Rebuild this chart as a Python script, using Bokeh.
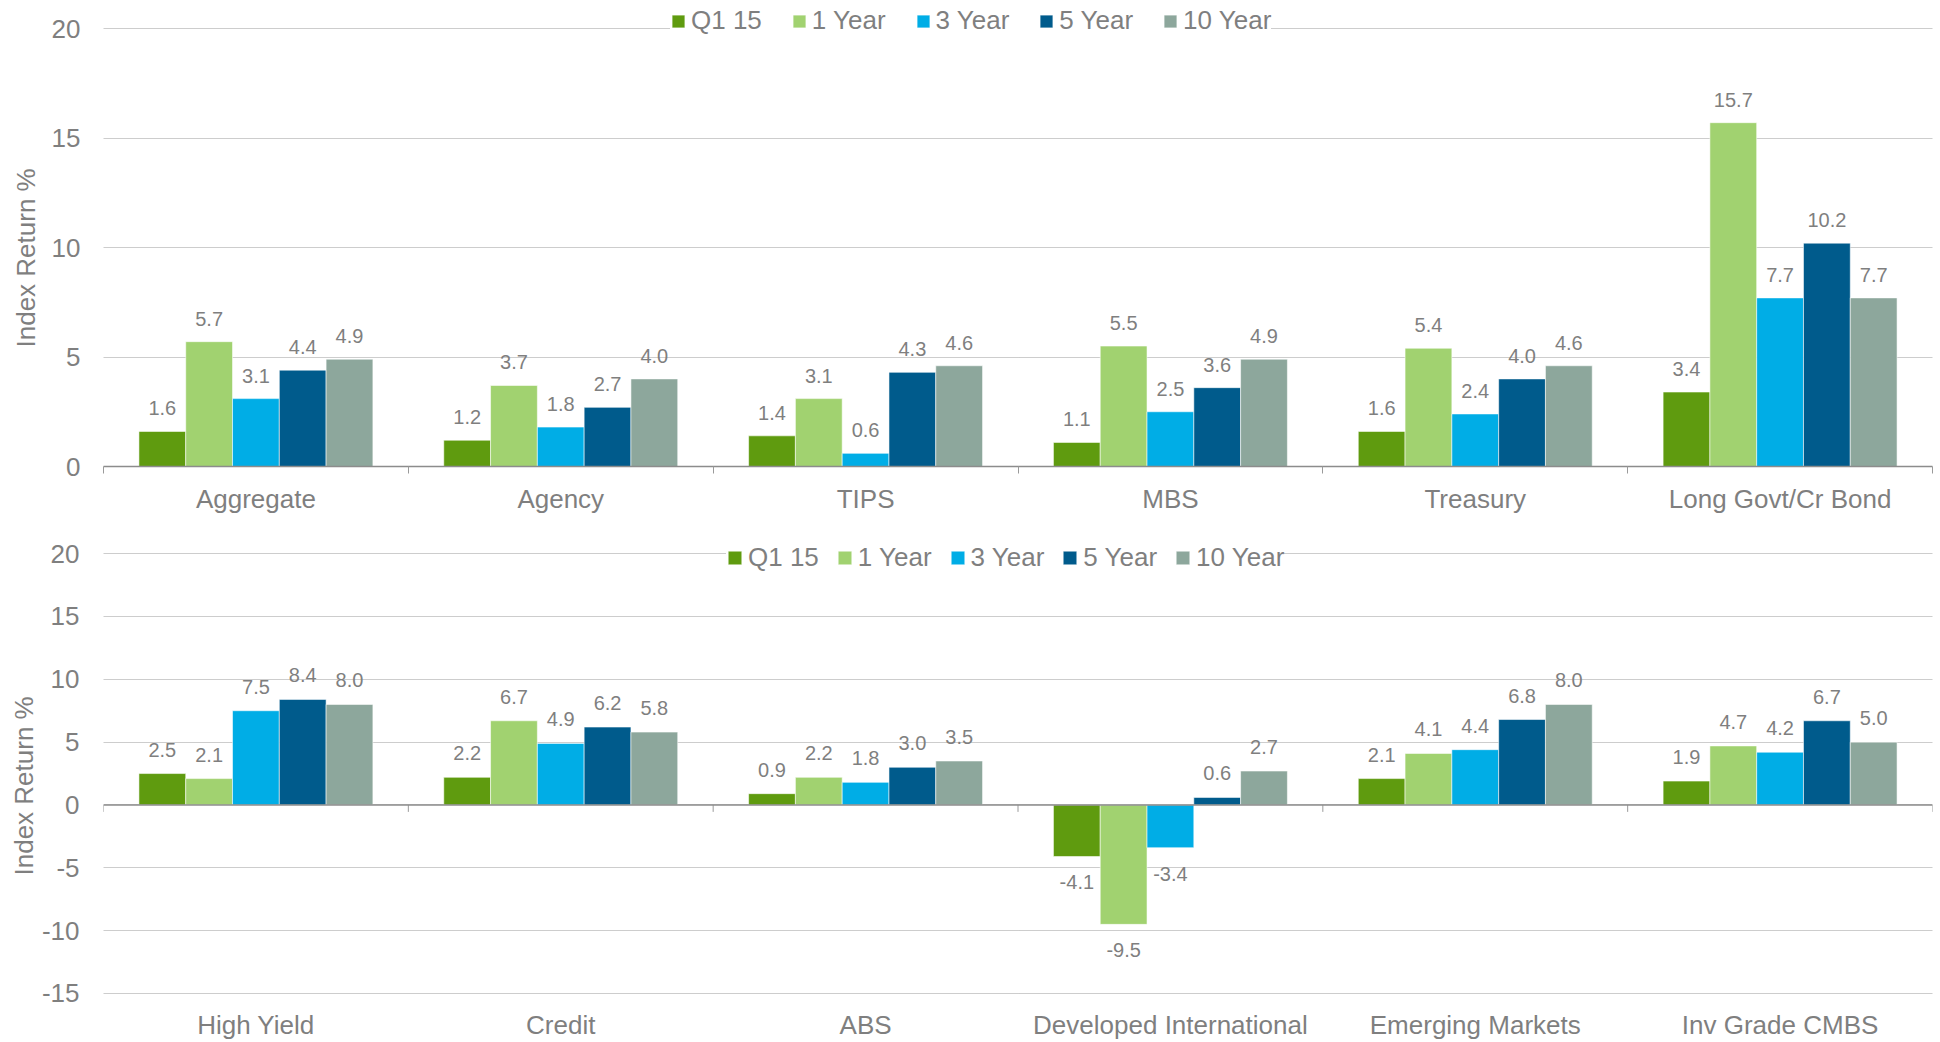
import numpy as np
from bokeh.plotting import figure
from bokeh.models import ColumnDataSource, FixedTicker, Legend, LegendItem, Span, Range1d, Title
from bokeh.layouts import column
from bokeh.embed import file_html
from bokeh.resources import INLINE
from bokeh.core.properties import value

# ---------------- data ----------------
series_names = ["Q1 15", "1 Year", "3 Year", "5 Year", "10 Year"]
series_colors = ["#5f9b0f", "#a1d270", "#00ade6", "#005b8c", "#8da79c"]

top_categories = ["Aggregate", "Agency", "TIPS", "MBS", "Treasury", "Long Govt/Cr Bond"]
top_q1_15 = [1.6, 1.2, 1.4, 1.1, 1.6, 3.4]
top_1_year = [5.7, 3.7, 3.1, 5.5, 5.4, 15.7]
top_3_year = [3.1, 1.8, 0.6, 2.5, 2.4, 7.7]
top_5_year = [4.4, 2.7, 4.3, 3.6, 4.0, 10.2]
top_10_year = [4.9, 4.0, 4.6, 4.9, 4.6, 7.7]
top_y_ticks = [0, 5, 10, 15, 20]

bottom_categories = ["High Yield", "Credit", "ABS", "Developed International",
                     "Emerging Markets", "Inv Grade CMBS"]
bottom_q1_15 = [2.5, 2.2, 0.9, -4.1, 2.1, 1.9]
bottom_1_year = [2.1, 6.7, 2.2, -9.5, 4.1, 4.7]
bottom_3_year = [7.5, 4.9, 1.8, -3.4, 4.4, 4.2]
bottom_5_year = [8.4, 6.2, 3.0, 0.6, 6.8, 6.7]
bottom_10_year = [8.0, 5.8, 3.5, 2.7, 8.0, 5.0]
bottom_y_ticks = [-15, -10, -5, 0, 5, 10, 15, 20]

y_label = "Index Return %"

# ---------------- style ----------------
FONT = "Liberation Sans"
TXT = "#7f7f7f"
GRID = "#9a9a9a"
AXIS = "#8c8c8c"
BAR_W = 0.1535


def build(categories, series, y_rng, y_ticks, height, border_left, border_right,
          border_top, border_bottom, x_label_standoff, title_offset, title_standoff,
          tick_standoff, legend_loc, legend_spacing, legend_glyph, legend_padding,
          zero_axis_bottom, label_gap_pos, label_gap_neg):
    n = len(categories)
    centers = [i + 0.5 for i in range(n)]
    bounds = [float(i) for i in range(n + 1)]
    p = figure(width=1940, height=height, output_backend="svg", toolbar_location=None,
               x_range=Range1d(0, n), y_range=Range1d(*y_rng),
               min_border_left=border_left, min_border_right=border_right,
               min_border_top=border_top, min_border_bottom=border_bottom)
    p.outline_line_color = None
    p.background_fill_color = "white"
    p.border_fill_color = "white"

    # grid
    p.xgrid.grid_line_color = None
    p.ygrid.ticker = FixedTicker(ticks=y_ticks)
    p.ygrid.grid_line_color = GRID
    p.ygrid.grid_line_dash = "1 1"
    p.ygrid.grid_line_width = 1

    # y axis
    ya = p.yaxis[0]
    ya.ticker = FixedTicker(ticks=y_ticks)
    ya.major_label_overrides = {t: str(t) for t in y_ticks}
    ya.axis_line_color = None
    ya.major_tick_line_color = None
    ya.minor_tick_line_color = None
    ya.major_tick_out = 0
    ya.major_tick_in = 0
    ya.minor_tick_out = 0
    ya.minor_tick_in = 0
    ya.major_label_standoff = tick_standoff
    ya.major_label_text_font = FONT
    ya.major_label_text_font_size = "26px"
    ya.major_label_text_color = TXT

    # y axis title as a side title so it can be shifted along the axis
    p.add_layout(Title(text=y_label, align="left", offset=title_offset,
                       vertical_align="bottom", standoff=title_standoff,
                       text_font=FONT, text_font_size="26px", text_font_style="normal",
                       text_color=TXT), "left")

    # x axis (category labels)
    xa = p.xaxis[0]
    xa.ticker = FixedTicker(ticks=centers, minor_ticks=bounds)
    xa.major_label_overrides = {c: lab for c, lab in zip(centers, categories)}
    xa.major_tick_line_color = None
    xa.major_tick_out = 0
    xa.major_tick_in = 0
    xa.major_label_standoff = x_label_standoff
    xa.major_label_text_font = FONT
    xa.major_label_text_font_size = "26px"
    xa.major_label_text_color = TXT
    if zero_axis_bottom:
        xa.axis_line_color = AXIS
        xa.axis_line_width = 1.5
        xa.minor_tick_line_color = GRID
        xa.minor_tick_out = 7
        xa.minor_tick_in = 0
    else:
        xa.axis_line_color = None
        xa.minor_tick_line_color = None
        xa.minor_tick_out = 0
        xa.minor_tick_in = 0

    # bars
    renderers = []
    for j, (vals, col) in enumerate(zip(series, series_colors)):
        xs = [c + (j - (len(series) - 1) / 2) * BAR_W for c in centers]
        src = ColumnDataSource(dict(x=xs, top=vals))
        r = p.vbar(x="x", top="top", bottom=0, width=BAR_W, source=src,
                   fill_color=col, line_color="white", line_width=1, line_alpha=0.55)
        renderers.append(r)
        pos = [(x, v, f"{v:.1f}") for x, v in zip(xs, vals) if v >= 0]
        neg = [(x, v, f"{v:.1f}") for x, v in zip(xs, vals) if v < 0]
        for rows, baseline, off in ((pos, "alphabetic", -label_gap_pos), (neg, "top", label_gap_neg)):
            if not rows:
                continue
            s = ColumnDataSource(dict(x=[r_[0] for r_ in rows], y=[r_[1] for r_ in rows],
                                      t=[r_[2] for r_ in rows]))
            p.text(x="x", y="y", text="t", source=s, text_align="center",
                   text_baseline=baseline, y_offset=off,
                   text_font=value(FONT), text_font_size="20px", text_color=TXT)

    if not zero_axis_bottom:
        p.add_layout(Span(location=0, dimension="width", line_color=AXIS, line_width=1.5))
        p.segment(x0=bounds, y0=[0] * len(bounds), x1=bounds, y1=[-0.55] * len(bounds),
                  line_color=GRID, line_width=1)

    legend = Legend(items=[LegendItem(label=nm, renderers=[r]) for nm, r in zip(series_names, renderers)],
                    orientation="horizontal", location=legend_loc,
                    glyph_width=legend_glyph, glyph_height=legend_glyph,
                    label_standoff=5, spacing=legend_spacing, padding=legend_padding,
                    margin=0, border_line_color=None, background_fill_color="white",
                    background_fill_alpha=1.0, label_text_font=FONT,
                    label_text_font_size="26px", label_text_color=TXT)
    p.add_layout(legend)
    return p


top = build(top_categories, [top_q1_15, top_1_year, top_3_year, top_5_year, top_10_year],
            (0, 21.28), top_y_ticks, height=520, border_left=103, border_right=8,
            border_top=0, border_bottom=54, x_label_standoff=10, title_offset=119,
            title_standoff=15, tick_standoff=23, legend_loc=(567, 430), legend_spacing=29,
            legend_glyph=16, legend_padding=14, zero_axis_bottom=True,
            label_gap_pos=23, label_gap_neg=19)

bottom = build(bottom_categories, [bottom_q1_15, bottom_1_year, bottom_3_year, bottom_5_year, bottom_10_year],
               (-15.4, 22), bottom_y_ticks, height=522, border_left=96, border_right=3,
               border_top=8, border_bottom=42, x_label_standoff=11, title_offset=123,
               title_standoff=0, tick_standoff=24, legend_loc=(623, 425), legend_spacing=17,
               legend_glyph=17, legend_padding=12, zero_axis_bottom=False,
               label_gap_pos=24, label_gap_neg=19)

layout = column(top, bottom, spacing=0)
open("out.html", "w").write(file_html(layout, INLINE, "Index Returns"))
